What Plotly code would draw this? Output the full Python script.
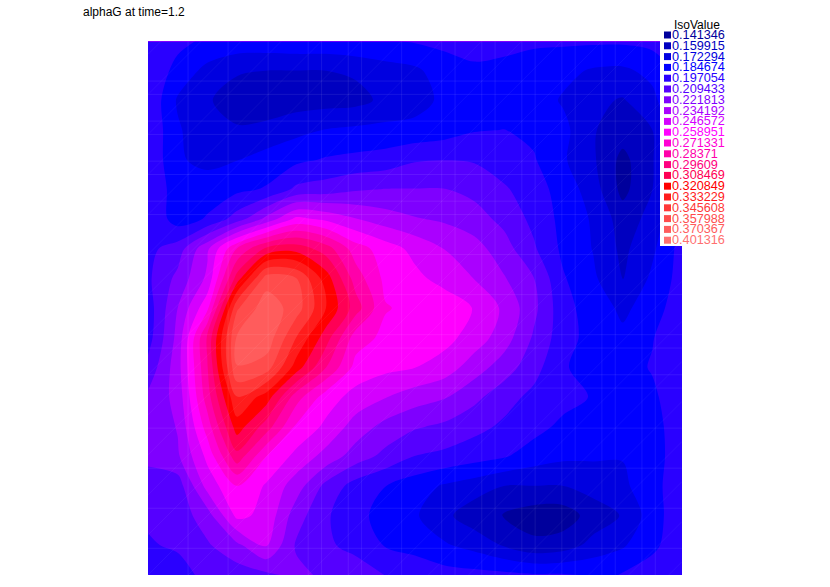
import plotly.graph_objects as go

title_text = "alphaG at time=1.2"
legend_title = "IsoValue"
iso_labels = ["0.141346","0.159915","0.172294","0.184674","0.197054","0.209433","0.221813","0.234192","0.246572","0.258951","0.271331","0.28371","0.29609","0.308469","0.320849","0.333229","0.345608","0.357988","0.370367","0.401316"]
iso_colors = ["#00009C","#0000C0","#0000E0","#0000FF","#2A00FF","#5500FF","#7F00FF","#AA00FF","#D400FF","#FF00FF","#FF00D4","#FF00AA","#FF0080","#FF0055","#FF0000","#FF1C1C","#FF3838","#FF4C4C","#FF5C5C","#FF7070"]

grid_x = [0,.0556,.1111,.1667,.2222,.2778,.3333,.3889,.4444,.5,.5556,.6111,.6667,.7222,.7778,.8333,.8889,.9444,1]
grid_y = [1,.9444,.8889,.8333,.7778,.7222,.6667,.6111,.5556,.5,.4444,.3889,.3333,.2778,.2222,.1667,.1111,.0556,0]
alpha_g = [
[.203,.195,.188,.187,.187,.188,.188,.190,.190,.192,.194,.195,.194,.193,.193,.193,.193,.195,.200],
[.203,.186,.175,.167,.166,.166,.166,.168,.173,.176,.185,.189,.188,.185,.182,.177,.176,.182,.196],
[.202,.177,.167,.162,.160,.160,.161,.162,.169,.174,.181,.186,.187,.185,.177,.169,.165,.175,.194],
[.202,.180,.170,.167,.169,.175,.179,.181,.182,.182,.185,.190,.191,.188,.182,.167,.160,.166,.193],
[.202,.180,.175,.178,.184,.188,.192,.194,.196,.202,.203,.202,.196,.192,.180,.168,.150,.165,.191],
[.201,.185,.185,.188,.192,.206,.209,.214,.216,.216,.216,.212,.205,.196,.186,.172,.150,.166,.192],
[.202,.185,.192,.209,.232,.256,.250,.241,.234,.229,.226,.221,.212,.200,.187,.177,.160,.170,.194],
[.200,.209,.238,.278,.305,.310,.296,.271,.259,.249,.240,.233,.221,.205,.188,.178,.163,.176,.196],
[.201,.219,.243,.308,.358,.352,.321,.284,.262,.256,.248,.240,.229,.216,.192,.181,.165,.181,.196],
[.197,.228,.262,.350,.372,.358,.327,.296,.266,.262,.261,.252,.238,.219,.195,.185,.176,.184,.200],
[.198,.232,.292,.366,.372,.339,.308,.271,.262,.262,.257,.247,.234,.214,.196,.186,.181,.190,.203],
[.207,.235,.289,.364,.358,.321,.290,.261,.256,.253,.247,.234,.222,.208,.192,.186,.185,.192,.203],
[.218,.232,.284,.339,.321,.283,.259,.248,.241,.234,.229,.219,.208,.200,.195,.190,.185,.188,.201],
[.216,.229,.271,.321,.296,.263,.250,.235,.224,.217,.213,.207,.201,.195,.188,.185,.184,.185,.200],
[.219,.226,.256,.298,.265,.249,.236,.222,.212,.203,.200,.196,.192,.185,.181,.180,.179,.184,.200],
[.209,.209,.245,.265,.251,.234,.212,.198,.191,.184,.177,.172,.166,.166,.166,.171,.176,.186,.200],
[.205,.209,.222,.256,.249,.221,.205,.194,.187,.180,.169,.159,.153,.147,.147,.159,.167,.185,.200],
[.202,.205,.214,.225,.241,.214,.205,.200,.190,.186,.180,.174,.165,.157,.160,.170,.177,.188,.199],
[.191,.198,.207,.209,.213,.219,.213,.209,.203,.200,.196,.195,.194,.192,.192,.190,.191,.197,.201],
]
mesh_x = [.075,.15,.225,.3,.325,.375,.4,.475,.55,.575,.625,.65,.7,.725,.775,.8,.85,.875,.925,.95]
mesh_y = [.05,.125,.2,.275,.35,.375,.425,.45,.525,.6,.675,.7,.75,.775,.825,.85,.9,.925]

LEVEL_START, LEVEL_SIZE, BANDS = .1537, .01238, 19
centres = [LEVEL_START + (i - .5) * LEVEL_SIZE for i in range(BANDS)]
zmin, zmax = centres[0], centres[-1]
scale = [[(c - zmin) / (zmax - zmin), iso_colors[i]] for i, c in enumerate(centres)]

fig = go.Figure()
fig.add_trace(go.Contour(
    x=grid_x, y=grid_y, z=alpha_g, zmin=zmin, zmax=zmax, colorscale=scale, showscale=False,
    autocontour=False,
    contours=dict(start=LEVEL_START, end=LEVEL_START + (BANDS - 2) * LEVEL_SIZE, size=LEVEL_SIZE, coloring="fill"),
    line=dict(width=0, smoothing=0.9), hoverinfo="skip"))

lx, ly = [], []
for v in mesh_x:
    lx += [v, v, None]; ly += [0, 1, None]
for v in mesh_y:
    lx += [0, 1, None]; ly += [v, v, None]
fig.add_trace(go.Scatter(x=lx, y=ly, mode="lines", line=dict(color="rgba(255,255,255,0.08)", width=1), hoverinfo="skip", showlegend=False))
dx, dy = [], []
for n in range(-13, 14):
    c = n * .075
    x0, x1 = max(0, -c), min(1, 1 - c)
    dx += [x0, x1, None]; dy += [x0 + c, x1 + c, None]
fig.add_trace(go.Scatter(x=dx, y=dy, mode="lines", line=dict(color="rgba(255,255,255,0.05)", width=1), hoverinfo="skip", showlegend=False))
fig.add_trace(go.Scatter(x=[0, 1], y=[1, 1], mode="lines", line=dict(color="#D400FF", width=1), hoverinfo="skip", showlegend=False))

W, H = 830, 587
L, T, PW, PH = 148, 41, 534, 534
fig.update_layout(width=W, height=H, margin=dict(l=L, r=W-L-PW, t=T, b=H-T-PH), paper_bgcolor="white", plot_bgcolor="white",
    xaxis=dict(range=[0, 1], visible=False), yaxis=dict(range=[0, 1], visible=False), showlegend=False,
    font=dict(family="Liberation Sans", color="black"))

shapes = [dict(type="rect", xref="paper", yref="paper", x0=(660-L)/PW, x1=(682-L)/PW, y0=(575-246)/PH, y1=(575-30)/PH, fillcolor="white", line_width=0, layer="above")]
ann = [dict(text=title_text, xref="paper", yref="paper", x=(83-L)/PW, y=(575-12)/PH, xanchor="left", yanchor="middle", showarrow=False, xshift=-2, font=dict(size=12, color="black")),
       dict(text=legend_title, xref="paper", yref="paper", x=(697-L)/PW, y=(575-25)/PH, xanchor="center", yanchor="middle", showarrow=False, font=dict(size=12, color="black"))]
for i, (lab, col) in enumerate(zip(iso_labels, iso_colors)):
    yc = 35 + i * 10.8
    shapes.append(dict(type="rect", xref="paper", yref="paper", x0=(664-L)/PW, x1=(671-L)/PW, y0=(575-yc-3.5)/PH, y1=(575-yc+3.5)/PH, fillcolor=col, line_width=0, layer="above"))
    ann.append(dict(text=lab, xref="paper", yref="paper", x=(672-L)/PW, y=(575-yc)/PH, xanchor="left", yanchor="middle", showarrow=False, xshift=-1, height=10, borderpad=0, font=dict(size=12.7, color=col)))
fig.update_layout(shapes=shapes, annotations=ann)
fig.write_html("out.html", config={"displayModeBar": False}, post_script="document.body.style.margin='0';document.documentElement.style.overflow='hidden';")
